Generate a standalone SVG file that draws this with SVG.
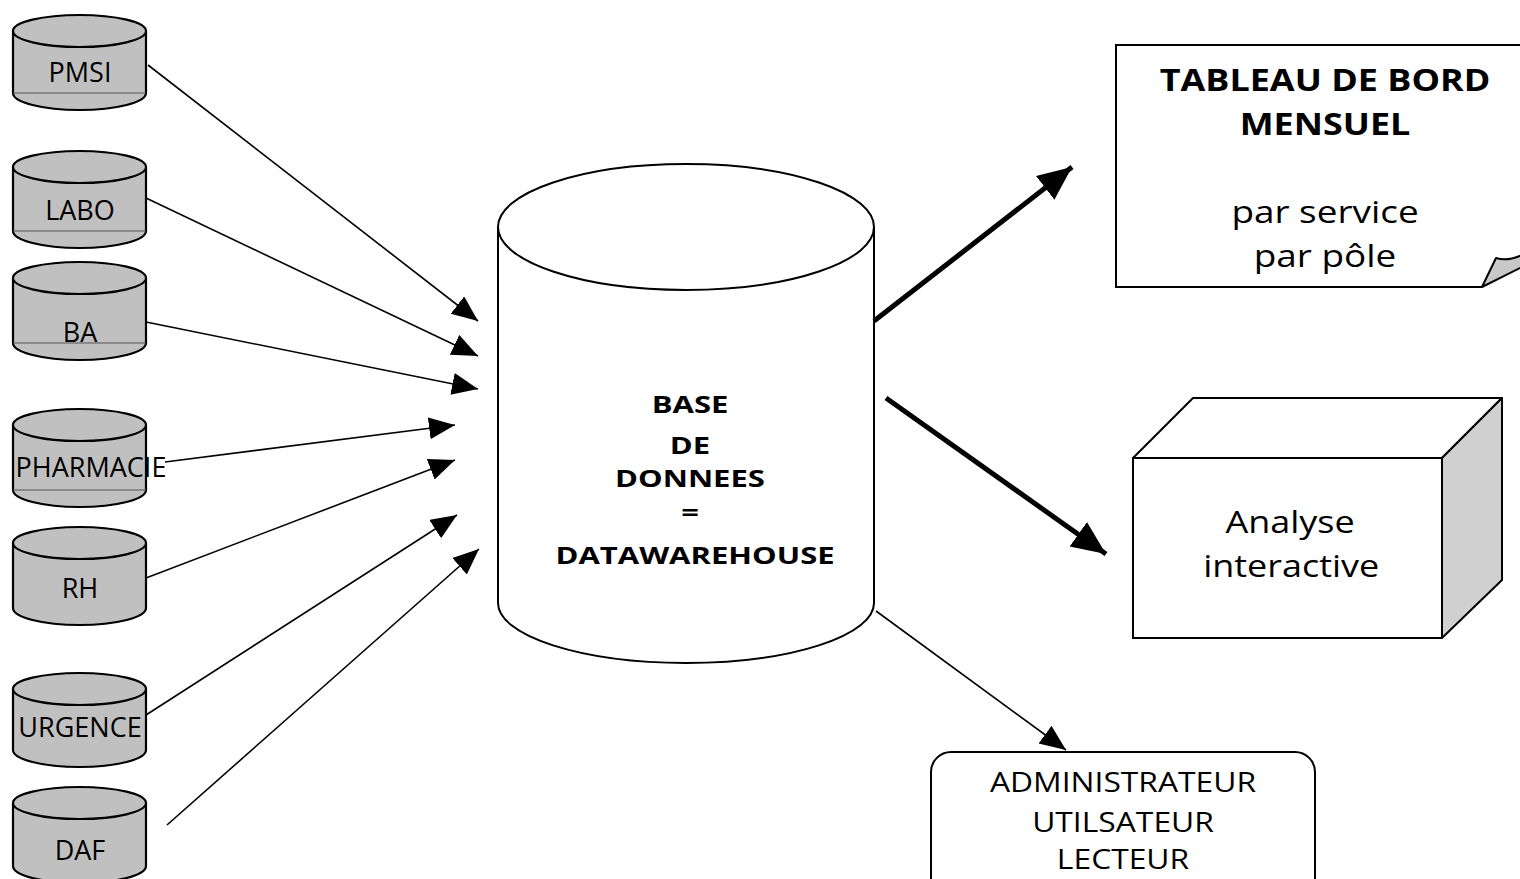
<svg xmlns="http://www.w3.org/2000/svg" width="1520" height="879" viewBox="0 0 1520 879">
<defs>
<style>
.cyl{fill:#c0c0c0;stroke:#000;stroke-width:2.2}
.mid{stroke:#555;stroke-width:1}
.lbl{font-family:"Open Sans",Lato,sans-serif;font-size:27px;fill:#000;text-anchor:middle}
.big{font-family:"Open Sans",Lato,sans-serif;fill:#000;text-anchor:middle}
.thin{stroke:#000;stroke-width:1.6;fill:none}
.thick{stroke:#000;stroke-width:5;fill:none}
</style>
<marker id="ah" markerUnits="userSpaceOnUse" markerWidth="28" markerHeight="24" refX="26" refY="11" orient="auto" viewBox="0 0 28 24">
<path d="M0,0 L26,11 L0,22 Z" fill="#000"/>
</marker>
<marker id="ahb" markerUnits="userSpaceOnUse" markerWidth="36" markerHeight="32" refX="34" refY="15" orient="auto" viewBox="0 0 36 32">
<path d="M0,0 L34,15 L0,30 Z" fill="#000"/>
</marker>
</defs>
<rect width="1520" height="879" fill="#fff"/>

<g id="pmsi">
<path class="cyl" d="M13,31 V93 A66.5,17 0 0 0 146,93 V31 A66.5,16 0 0 0 13,31 Z"/>
<path class="cyl" d="M13,31 A66.5,16 0 0 0 146,31"/>
<line class="mid" x1="13" y1="93" x2="146" y2="93"/>
<text class="lbl" x="80" y="82">PMSI</text>
</g>
<g id="labo">
<path class="cyl" d="M13,167 V231 A66.5,17 0 0 0 146,231 V167 A66.5,16 0 0 0 13,167 Z"/>
<path class="cyl" d="M13,167 A66.5,16 0 0 0 146,167"/>
<line class="mid" x1="13" y1="231" x2="146" y2="231"/>
<text class="lbl" x="80" y="220">LABO</text>
</g>
<g id="ba">
<path class="cyl" d="M13,278 V343 A66.5,17 0 0 0 146,343 V278 A66.5,16 0 0 0 13,278 Z"/>
<path class="cyl" d="M13,278 A66.5,16 0 0 0 146,278"/>
<line class="mid" x1="13" y1="343" x2="146" y2="343"/>
<text class="lbl" x="80" y="342">BA</text>
</g>
<g id="pharmacie">
<path class="cyl" d="M13,425 V490 A66.5,17 0 0 0 146,490 V425 A66.5,16 0 0 0 13,425 Z"/>
<path class="cyl" d="M13,425 A66.5,16 0 0 0 146,425"/>
<line class="mid" x1="13" y1="490" x2="146" y2="490"/>
<text class="lbl" x="91" y="477">PHARMACIE</text>
</g>
<g id="rh">
<path class="cyl" d="M13,543 V608 A66.5,17 0 0 0 146,608 V543 A66.5,16 0 0 0 13,543 Z"/>
<path class="cyl" d="M13,543 A66.5,16 0 0 0 146,543"/>
<text class="lbl" x="80" y="598">RH</text>
</g>
<g id="urgence">
<path class="cyl" d="M13,689 V750 A66.5,17 0 0 0 146,750 V689 A66.5,16 0 0 0 13,689 Z"/>
<path class="cyl" d="M13,689 A66.5,16 0 0 0 146,689"/>
<text class="lbl" x="80" y="737">URGENCE</text>
</g>
<g id="daf">
<path class="cyl" d="M13,803 V866 A66.5,17 0 0 0 146,866 V803 A66.5,16 0 0 0 13,803 Z"/>
<path class="cyl" d="M13,803 A66.5,16 0 0 0 146,803"/>
<text class="lbl" x="80" y="860">DAF</text>
</g>

<g id="datawarehouse">
<path d="M498,227 V603 A188,60 0 0 0 874,603 V227 A188,63 0 0 0 498,227 Z" fill="#fff" stroke="#000" stroke-width="2"/>
<path d="M498,227 A188,63 0 0 0 874,227" fill="none" stroke="#000" stroke-width="2"/>
<g class="big" font-weight="bold" font-size="23.5" transform="translate(690 0) scale(1.32 1)">
<text x="0" y="413">BASE</text>
<text x="0" y="454">DE</text>
<text x="0" y="487">DONNEES</text>
<text x="0" y="521">=</text>
<text x="3.8" y="564">DATAWAREHOUSE</text>
</g>
</g>

<g id="tableau">
<path d="M1525,45 H1116 V287 H1482" fill="#fff" stroke="#000" stroke-width="2"/>
<path d="M1482,287 L1496,258 Q1508,262 1524,254 L1524,266 Z" fill="#c8c8c8" stroke="#000" stroke-width="2" stroke-linejoin="round"/>
<g class="big" transform="translate(1325 0) scale(1.16 1)">
<text x="0" y="91" font-size="31" font-weight="bold">TABLEAU DE BORD</text>
<text x="0" y="135" font-size="31" font-weight="bold">MENSUEL</text>
</g>
<g class="big" transform="translate(1325 0) scale(1.19 1)">
<text x="0" y="223" font-size="31">par service</text>
<text x="0" y="267" font-size="31">par pôle</text>
</g>
</g>

<g id="analyse">
<path d="M1133,458 L1193,398 H1502 L1442,458 Z" fill="#fff" stroke="#000" stroke-width="2" stroke-linejoin="round"/>
<path d="M1442,458 L1502,398 V580 L1442,638 Z" fill="#d0d0d0" stroke="#000" stroke-width="2" stroke-linejoin="round"/>
<rect x="1133" y="458" width="309" height="180" fill="#fff" stroke="#000" stroke-width="2"/>
<g class="big" font-size="31" transform="translate(1290 0) scale(1.16 1)">
<text x="0" y="533">Analyse</text>
<text x="1" y="577">interactive</text>
</g>
</g>

<g id="admin">
<rect x="931" y="752" width="384" height="150" rx="20" fill="#fff" stroke="#000" stroke-width="2"/>
<g class="big" font-size="26.5" transform="translate(1123 0) scale(1.2 1)">
<text x="0" y="792">ADMINISTRATEUR</text>
<text x="0" y="832">UTILSATEUR</text>
<text x="0" y="869">LECTEUR</text>
</g>
</g>

<g id="connectors">
<line class="thin" x1="148" y1="65" x2="478" y2="321" marker-end="url(#ah)"/>
<line class="thin" x1="146" y1="198" x2="478" y2="356" marker-end="url(#ah)"/>
<line class="thin" x1="146" y1="322" x2="478" y2="389" marker-end="url(#ah)"/>
<line class="thin" x1="165" y1="462" x2="455" y2="425" marker-end="url(#ah)"/>
<line class="thin" x1="146" y1="578" x2="455" y2="460" marker-end="url(#ah)"/>
<line class="thin" x1="146" y1="715" x2="457" y2="515" marker-end="url(#ah)"/>
<line class="thin" x1="167" y1="825" x2="479" y2="549" marker-end="url(#ah)"/>
<line class="thick" x1="874" y1="321" x2="1072" y2="167" marker-end="url(#ahb)"/>
<line class="thick" x1="886" y1="398" x2="1106" y2="554" marker-end="url(#ahb)"/>
<line class="thin" x1="876" y1="611" x2="1066" y2="750" marker-end="url(#ah)"/>
</g>
</svg>
